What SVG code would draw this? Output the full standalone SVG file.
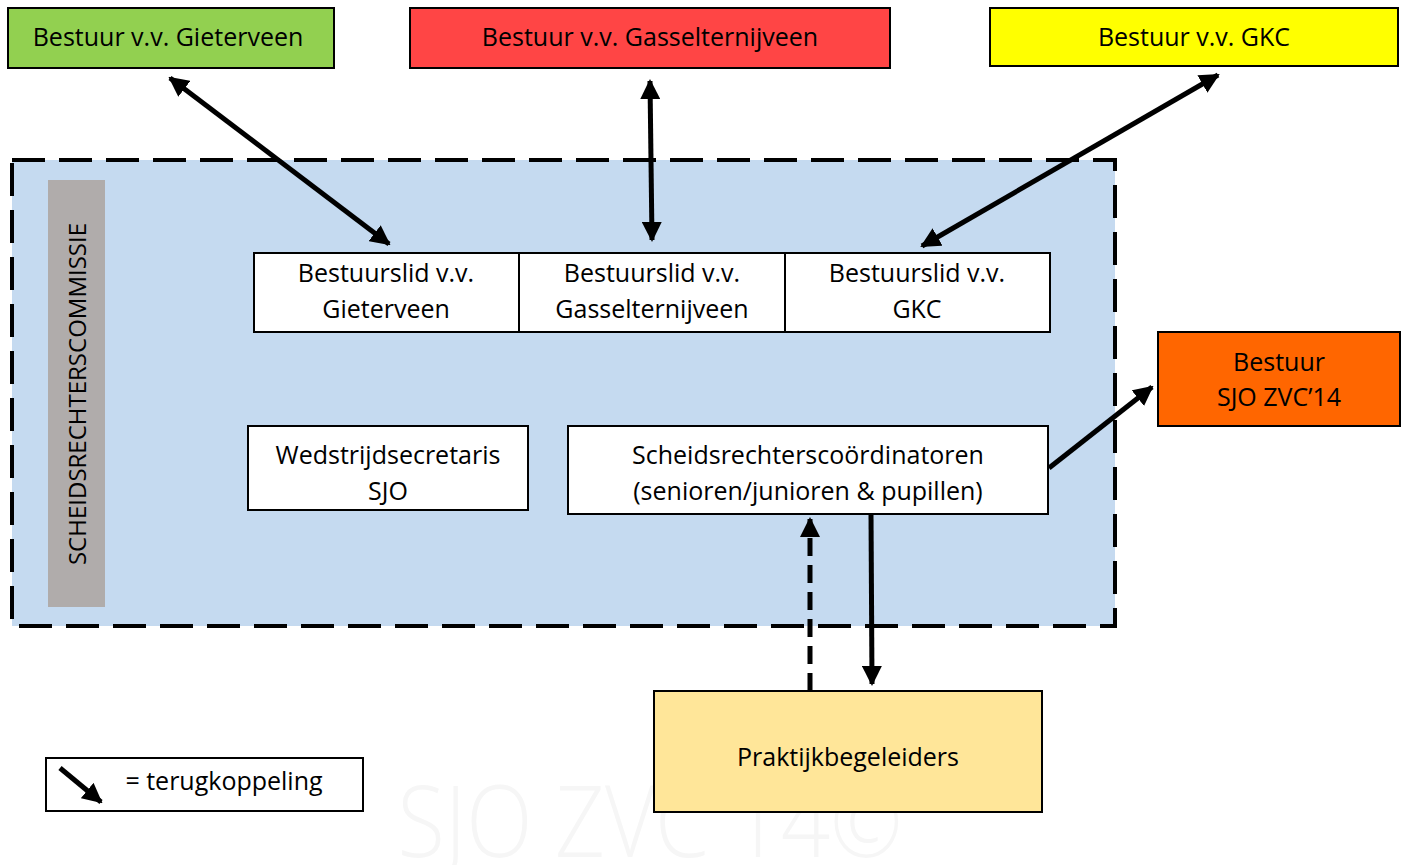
<svg xmlns="http://www.w3.org/2000/svg" width="1407" height="865" viewBox="0 0 1407 865">
<style>
.box{stroke:#000;stroke-width:2}
.t{font-family:"Open Sans","Liberation Sans",Arial,sans-serif;font-size:25px;fill:#000;text-anchor:middle}
.c{stroke:#000;stroke-width:5;fill:none}
</style>
<defs>
<marker id="ah" viewBox="0 0 10 10" refX="9" refY="5" markerWidth="4" markerHeight="4" orient="auto-start-reverse" markerUnits="strokeWidth">
<path d="M0,0 L10,5 L0,10 z" fill="#000"/>
</marker>
</defs>
<rect width="1407" height="865" fill="#fff"/>
<text x="650" y="857" textLength="505" lengthAdjust="spacingAndGlyphs" style="font-family:'Open Sans',sans-serif;font-size:100px;font-weight:300;fill:#f6f6f6;text-anchor:middle">SJO ZVC 14©</text>
<g id="commissie">
<rect x="12" y="160" width="1103" height="466" fill="#c5daf0" stroke="#000" stroke-width="4" stroke-dasharray="33,14"/>
<rect x="48" y="180" width="57" height="427" fill="#b0acab"/>
<text class="t" transform="translate(86,394) rotate(-90)" style="font-size:24px">SCHEIDSRECHTERSCOMMISSIE</text>
</g>
<g id="n-gieterveen"><rect class="box" x="8" y="8" width="326" height="60" fill="#92d050"/><text class="t" x="168" y="46">Bestuur v.v. Gieterveen</text></g>
<g id="n-gasselternijveen"><rect class="box" x="410" y="8" width="480" height="60" fill="#ff4545"/><text class="t" x="650" y="46">Bestuur v.v. Gasselternijveen</text></g>
<g id="n-gkc"><rect class="box" x="990" y="8" width="408" height="58" fill="#ffff00"/><text class="t" x="1194" y="46">Bestuur v.v. GKC</text></g>
<g id="n-lid-gieterveen"><rect class="box" x="254" y="253" width="265" height="79" fill="#fff"/><text class="t" x="386" y="282">Bestuurslid v.v.</text><text class="t" x="386" y="318">Gieterveen</text></g>
<g id="n-lid-gasselternijveen"><rect class="box" x="519" y="253" width="266" height="79" fill="#fff"/><text class="t" x="652" y="282">Bestuurslid v.v.</text><text class="t" x="652" y="318">Gasselternijveen</text></g>
<g id="n-lid-gkc"><rect class="box" x="785" y="253" width="265" height="79" fill="#fff"/><text class="t" x="917" y="282">Bestuurslid v.v.</text><text class="t" x="917" y="318">GKC</text></g>
<g id="n-wedstrijd"><rect class="box" x="248" y="426" width="280" height="84" fill="#fff"/><text class="t" x="388" y="464">Wedstrijdsecretaris</text><text class="t" x="388" y="500">SJO</text></g>
<g id="n-coord"><rect class="box" x="568" y="426" width="480" height="88" fill="#fff"/><text class="t" x="808" y="464">Scheidsrechterscoördinatoren</text><text class="t" x="808" y="500">(senioren/junioren &amp; pupillen)</text></g>
<g id="n-sjo"><rect class="box" x="1158" y="332" width="242" height="94" fill="#ff6600"/><text class="t" x="1279" y="371">Bestuur</text><text class="t" x="1279" y="406">SJO ZVC’14</text></g>
<g id="n-praktijk"><rect class="box" x="654" y="691" width="388" height="121" fill="#ffe699"/><text class="t" x="848" y="766">Praktijkbegeleiders</text></g>
<g id="legend"><rect class="box" x="46" y="758" width="317" height="53" fill="#fff"/><line class="c" x1="60" y1="768" x2="101" y2="802" marker-end="url(#ah)"/><text class="t" x="224" y="790">= terugkoppeling</text></g>
<g id="connectors">
<line class="c" x1="170" y1="78" x2="389" y2="244" marker-start="url(#ah)" marker-end="url(#ah)"/>
<line class="c" x1="650" y1="81" x2="652" y2="240" marker-start="url(#ah)" marker-end="url(#ah)"/>
<line class="c" x1="1218" y1="75" x2="922" y2="246" marker-start="url(#ah)" marker-end="url(#ah)"/>
<line class="c" x1="1049" y1="468" x2="1152" y2="387" marker-end="url(#ah)"/>
<line class="c" x1="810" y1="691" x2="810" y2="519" stroke-dasharray="18,9" marker-end="url(#ah)"/>
<line class="c" x1="871" y1="514" x2="872" y2="684" marker-end="url(#ah)"/>
</g>
</svg>
